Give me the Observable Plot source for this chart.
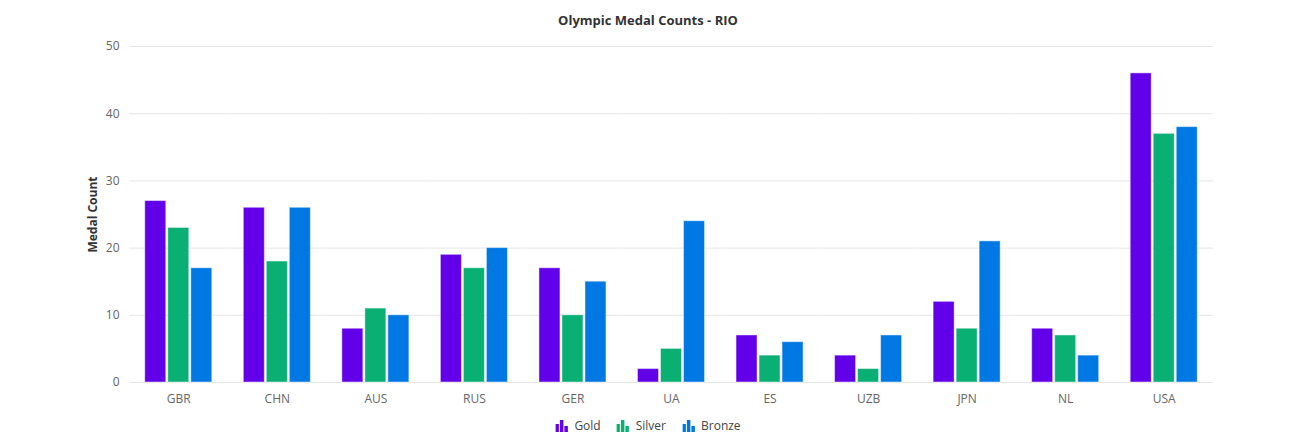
<!DOCTYPE html>
<html>
<head>
<meta charset="utf-8">
<script src="https://cdn.jsdelivr.net/npm/d3@7"></script>
<script src="https://cdn.jsdelivr.net/npm/@observablehq/plot@0.6"></script>
<style>
  body { margin: 0; background: #fff; font-family: "Open Sans", "Noto Sans", sans-serif; }
  #wrap { position: relative; width: 1315px; height: 441px; }
  #title { position: absolute; left: 648px; top: 11px; transform: translateX(-50%); font-size: 13px; font-weight: 700; color: #333; white-space: nowrap; }
  #chart { position: absolute; left: 0; top: 36px; }
  #legend { position: absolute; left: 648px; top: 417px; transform: translateX(-50%); display: flex; gap: 16px; font-size: 12px; color: #444; white-space: nowrap; }
  .item { display: flex; align-items: center; gap: 6px; }
</style>
</head>
<body>
<div id="wrap">
  <div id="title">Olympic Medal Counts - RIO</div>
  <div id="chart"></div>
  <div id="legend"></div>
</div>
<script>
const countries = ["GBR", "CHN", "AUS", "RUS", "GER", "UA", "ES", "UZB", "JPN", "NL", "USA"];
const gold   = [27, 26, 8, 19, 17, 2, 7, 4, 12, 8, 46];
const silver = [23, 18, 11, 17, 10, 5, 4, 2, 8, 7, 37];
const bronze = [17, 26, 10, 20, 15, 24, 6, 7, 21, 4, 38];
const medalTypes = ["Gold", "Silver", "Bronze"];
const medalColors = ["#6200ea", "#0aaf74", "#0078e3"];
const yTicks = [0, 10, 20, 30, 40, 50];

const series = [gold, silver, bronze];
const data = [];
countries.forEach((c, i) => {
  medalTypes.forEach((m, j) => data.push({country: c, medal: m, value: series[j][i]}));
});

const plot = Plot.plot({
  width: 1315,
  height: 374,
  marginLeft: 129,
  marginRight: 102,
  marginTop: 10,
  marginBottom: 28,
  style: { fontFamily: "'Open Sans', 'Noto Sans', sans-serif", fontSize: "12px", color: "#666" },
  fx: { domain: countries, padding: 0, round: false, label: null, tickSize: 0, tickPadding: 12 },
  x: { domain: medalTypes, axis: null, round: false, paddingInner: 0.087, paddingOuter: 0.685 },
  y: { domain: [0, 50], ticks: yTicks, tickSize: 0, tickPadding: 10, label: "Medal Count", labelAnchor: "center", labelArrow: "none", labelOffset: 41 },
  color: { domain: medalTypes, range: medalColors },
  marks: [
    Plot.gridY(yTicks, { stroke: "#e6e6e6", strokeOpacity: 1 }),
    Plot.ruleY([0], { stroke: "#e6e6e6" }),
    Plot.barY(data, { fx: "country", x: "medal", y: "value", fill: "medal", stroke: "#ffffff", strokeOpacity: 0.45, strokeWidth: 1 })
  ]
});

plot.querySelectorAll("g[aria-label='y-axis label'] text").forEach(t => {
  t.setAttribute("font-weight", "700");
  t.setAttribute("fill", "#333");
});
document.getElementById("chart").appendChild(plot);

const legend = document.getElementById("legend");
medalTypes.forEach((m, i) => {
  const item = document.createElement("div");
  item.className = "item";
  const ns = "http://www.w3.org/2000/svg";
  const svg = document.createElementNS(ns, "svg");
  svg.setAttribute("width", 13); svg.setAttribute("height", 13);
  [[0, 5, 8], [4.5, 1, 12], [9, 7, 6]].forEach(([x, y, h]) => {
    const r = document.createElementNS(ns, "rect");
    r.setAttribute("x", x); r.setAttribute("y", y); r.setAttribute("width", 3.5); r.setAttribute("height", h);
    r.setAttribute("fill", medalColors[i]);
    svg.appendChild(r);
  });
  item.appendChild(svg);
  const s = document.createElement("span");
  s.textContent = m;
  item.appendChild(s);
  legend.appendChild(item);
});
</script>
</body>
</html>
